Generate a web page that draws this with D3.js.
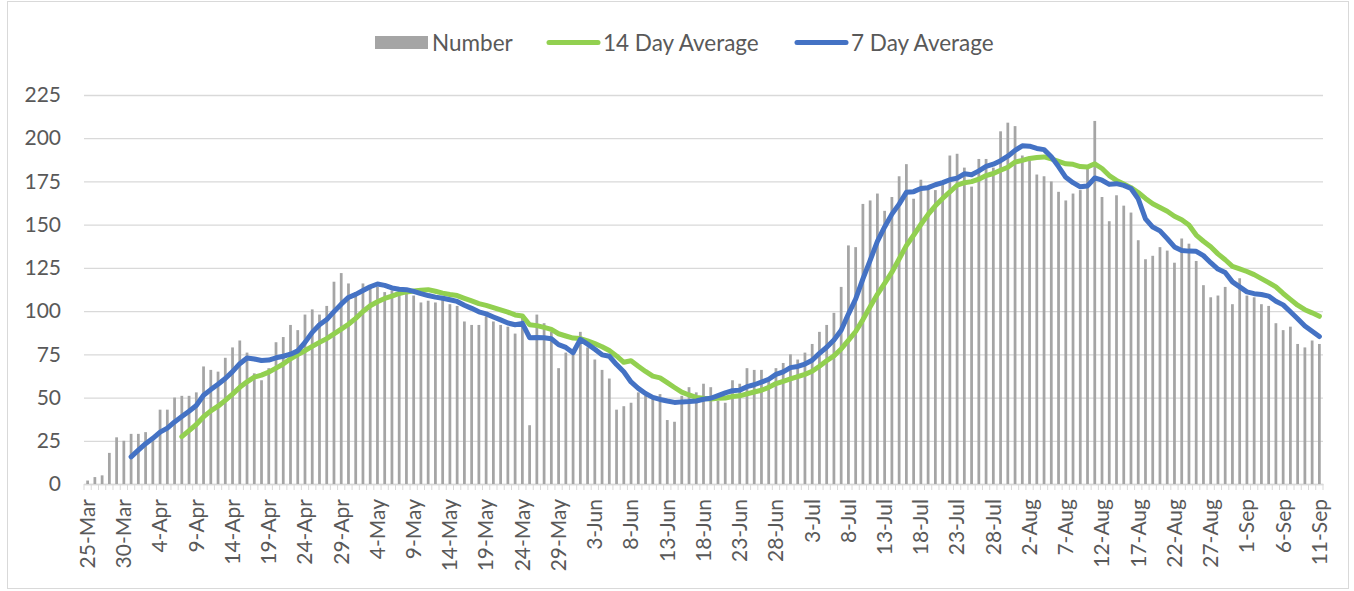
<!DOCTYPE html>
<html>
<head>
<meta charset="utf-8">
<script src="https://cdn.jsdelivr.net/npm/d3@7"></script>
<style>
  body { margin: 0; background: #fff; }
  text { font-family: Lato, "Open Sans", sans-serif; fill: #595959; }
</style>
</head>
<body>
<script>
// daily categories, 25-Mar to 11-Sep
var dates = [
  "25-Mar","26-Mar","27-Mar","28-Mar","29-Mar","30-Mar","31-Mar",
  "1-Apr","2-Apr","3-Apr","4-Apr","5-Apr","6-Apr","7-Apr","8-Apr","9-Apr","10-Apr",
  "11-Apr","12-Apr","13-Apr","14-Apr","15-Apr","16-Apr","17-Apr","18-Apr","19-Apr","20-Apr",
  "21-Apr","22-Apr","23-Apr","24-Apr","25-Apr","26-Apr","27-Apr","28-Apr","29-Apr","30-Apr",
  "1-May","2-May","3-May","4-May","5-May","6-May","7-May","8-May","9-May","10-May",
  "11-May","12-May","13-May","14-May","15-May","16-May","17-May","18-May","19-May","20-May",
  "21-May","22-May","23-May","24-May","25-May","26-May","27-May","28-May","29-May","30-May","31-May",
  "1-Jun","2-Jun","3-Jun","4-Jun","5-Jun","6-Jun","7-Jun","8-Jun","9-Jun","10-Jun",
  "11-Jun","12-Jun","13-Jun","14-Jun","15-Jun","16-Jun","17-Jun","18-Jun","19-Jun","20-Jun",
  "21-Jun","22-Jun","23-Jun","24-Jun","25-Jun","26-Jun","27-Jun","28-Jun","29-Jun","30-Jun",
  "1-Jul","2-Jul","3-Jul","4-Jul","5-Jul","6-Jul","7-Jul","8-Jul","9-Jul","10-Jul",
  "11-Jul","12-Jul","13-Jul","14-Jul","15-Jul","16-Jul","17-Jul","18-Jul","19-Jul","20-Jul",
  "21-Jul","22-Jul","23-Jul","24-Jul","25-Jul","26-Jul","27-Jul","28-Jul","29-Jul","30-Jul","31-Jul",
  "1-Aug","2-Aug","3-Aug","4-Aug","5-Aug","6-Aug","7-Aug","8-Aug","9-Aug","10-Aug",
  "11-Aug","12-Aug","13-Aug","14-Aug","15-Aug","16-Aug","17-Aug","18-Aug","19-Aug","20-Aug",
  "21-Aug","22-Aug","23-Aug","24-Aug","25-Aug","26-Aug","27-Aug","28-Aug","29-Aug","30-Aug","31-Aug",
  "1-Sep","2-Sep","3-Sep","4-Sep","5-Sep","6-Sep","7-Sep","8-Sep","9-Sep","10-Sep","11-Sep"
];

var number = [
  2,4,5,18,27,25,29,
  29,30,27,43,43,50,51,51,53,68,
  66,65,73,79,83,76,64,60,67,82,
  85,92,89,98,101,98,103,117,122,116,
  111,116,114,114,111,112,110,110,109,105,
  106,105,107,104,103,94,92,92,97,94,
  92,91,87,97,34,98,93,88,67,76,75,
  88,79,72,66,61,43,45,47,53,51,
  51,52,37,36,51,56,53,58,56,48,
  47,60,58,67,66,66,60,67,70,75,
  72,76,81,88,92,99,114,138,137,162,
  164,168,158,166,178,185,165,176,172,170,
  174,190,191,183,172,188,188,183,204,209,207,
  190,187,179,178,175,169,164,168,170,183,
  210,166,152,167,161,157,141,130,132,137,
  135,128,142,139,129,115,108,109,114,104,119,
  109,108,104,103,93,89,91,81,79,83,81
];

var avg14 = [
  null,null,null,null,null,null,null,
  null,null,null,null,null,null,27.4,30.9,34.4,38.9,
  42.3,45.0,48.4,52.0,55.9,59.1,61.8,63.0,64.7,67.0,
  69.4,72.4,74.9,77.1,79.6,81.9,84.1,86.8,89.6,92.4,
  95.8,99.8,103.1,105.4,107.3,108.7,110.2,111.1,111.6,112.1,
  112.4,111.5,110.4,109.6,109.0,107.4,105.9,104.3,103.3,102.0,
  100.7,99.4,97.8,97.2,92.1,91.6,90.6,89.4,86.9,85.6,84.4,
  84.1,82.8,81.2,79.4,77.2,74.1,70.4,71.3,68.1,65.1,
  62.4,61.4,58.6,55.8,53.1,51.5,50.1,49.6,49.2,49.6,
  49.7,50.6,51.0,52.1,53.2,54.2,55.9,58.1,59.4,60.8,
  62.1,63.4,65.2,68.1,71.3,74.1,78.1,83.1,88.2,95.1,
  102.5,109.7,116.0,122.5,130.1,137.9,143.9,150.1,155.9,160.9,
  165.2,168.9,172.8,174.3,174.9,176.3,178.4,179.6,181.5,183.2,186.2,
  187.2,188.3,188.9,189.2,188.1,186.6,185.2,184.9,183.6,183.3,
  185.2,182.5,178.4,175.6,173.5,171.4,168.6,165.2,162.1,159.9,
  157.8,154.9,152.9,149.8,144.0,140.4,137.2,133.1,129.7,125.9,124.4,
  122.9,121.1,118.8,116.5,114.0,110.2,106.8,103.4,100.8,99.0,97.0
];

var avg7 = [
  null,null,null,null,null,null,15.7,
  19.6,23.3,26.4,30.0,32.3,35.9,39.0,42.1,45.4,51.3,
  54.6,57.7,61.0,65.0,69.6,72.9,72.3,71.4,71.7,73.0,
  73.9,75.1,77.0,81.9,87.7,92.1,95.1,99.7,104.0,107.9,
  109.7,111.9,114.1,115.7,114.9,113.4,112.6,112.4,111.4,110.1,
  109.0,108.1,107.4,106.6,105.6,103.4,101.6,99.6,98.4,96.6,
  94.9,93.1,92.1,92.9,84.6,84.7,84.6,84.0,80.6,79.0,75.9,
  83.6,80.9,77.9,74.7,73.9,69.1,64.9,59.0,55.3,52.3,
  50.1,48.9,48.0,47.2,47.5,47.7,48.0,49.0,49.6,51.1,
  52.7,54.0,54.3,56.3,57.4,58.9,60.6,63.4,64.9,67.3,
  68.0,69.4,71.6,75.6,79.1,83.3,88.9,98.3,107.0,118.6,
  129.4,140.3,148.7,156.1,161.9,168.7,169.1,170.9,171.4,173.1,
  174.3,176.0,176.9,179.4,178.9,181.1,183.7,185.0,187.0,189.6,193.0,
  195.6,195.4,194.1,193.4,189.3,183.6,177.4,174.3,171.9,172.4,
  177.0,175.7,173.3,173.7,172.7,170.9,164.9,153.4,148.6,146.4,
  141.9,137.1,135.0,134.7,134.6,132.1,128.0,124.3,122.3,116.9,114.0,
  111.1,110.1,109.6,108.7,105.7,103.6,99.6,95.6,91.4,88.4,85.3
];

var tickLabels = ["25-Mar","30-Mar","4-Apr","9-Apr","14-Apr","19-Apr","24-Apr","29-Apr",
  "4-May","9-May","14-May","19-May","24-May","29-May","3-Jun","8-Jun","13-Jun","18-Jun",
  "23-Jun","28-Jun","3-Jul","8-Jul","13-Jul","18-Jul","23-Jul","28-Jul","2-Aug","7-Aug",
  "12-Aug","17-Aug","22-Aug","27-Aug","1-Sep","6-Sep","11-Sep"];
var yTicks = [0, 25, 50, 75, 100, 125, 150, 175, 200, 225];

var width = 1354, height = 591;
var plot = { left: 84, right: 1323, top: 95, bottom: 484 };

var svg = d3.select("body").append("svg")
    .attr("width", width)
    .attr("height", height);

// chart border
svg.append("rect")
    .attr("x", 7.5).attr("y", 1.5)
    .attr("width", 1341).attr("height", 587)
    .attr("fill", "none").attr("stroke", "#d9d9d9");

var x = d3.scaleBand().domain(dates).range([plot.left, plot.right]);
var y = d3.scaleLinear().domain([0, 225]).range([plot.bottom, plot.top]);
var bw = x.bandwidth();
var cx = function(d) { return x(d) + bw / 2; };

// gridlines + y labels
var yAxis = d3.axisLeft(y).tickValues(yTicks).tickSize(-(plot.right - plot.left)).tickPadding(23);
var gy = svg.append("g").attr("transform", "translate(" + plot.left + ",0)").call(yAxis);
gy.select(".domain").remove();
gy.selectAll("line").attr("stroke", "#d9d9d9").attr("stroke-width", 1.3);
gy.selectAll("text").style("font-size", "21px").attr("fill", "#595959");

// category tick marks
svg.append("g").selectAll("line")
    .data(dates.concat([null]))
    .enter().append("line")
    .attr("x1", function(d) { return d === null ? plot.right : x(d); })
    .attr("x2", function(d) { return d === null ? plot.right : x(d); })
    .attr("y1", plot.bottom).attr("y2", plot.bottom + 6)
    .attr("stroke", "#d9d9d9");

// x labels
var xAxis = d3.axisBottom(x).tickValues(tickLabels).tickSize(0);
var gx = svg.append("g").attr("transform", "translate(0," + plot.bottom + ")").call(xAxis);
gx.select(".domain").attr("stroke", "#d9d9d9").attr("stroke-width", 1.3);
gx.selectAll("text")
    .style("font-size", "21px").attr("fill", "#595959")
    .attr("transform", "rotate(-90)")
    .attr("text-anchor", "end")
    .attr("x", -15).attr("y", 0).attr("dy", "0.35em");

// bars
svg.append("g").selectAll("rect")
    .data(number)
    .enter().append("rect")
    .attr("x", function(d, i) { return cx(dates[i]) - bw * 0.19; })
    .attr("width", bw * 0.38)
    .attr("y", function(d) { return y(d); })
    .attr("height", function(d) { return plot.bottom - y(d); })
    .attr("fill", "#a5a5a5");

function drawLine(values, color) {
    var line = d3.line()
        .defined(function(d) { return d !== null; })
        .x(function(d, i) { return cx(dates[i]); })
        .y(function(d) { return y(d); });
    svg.append("path")
        .datum(values)
        .attr("d", line)
        .attr("fill", "none")
        .attr("stroke", color)
        .attr("stroke-width", 5)
        .attr("stroke-linejoin", "round")
        .attr("stroke-linecap", "round");
}
drawLine(avg14, "#92d050");
drawLine(avg7, "#4472c4");

// legend
var lg = svg.append("g").style("font-size", "22.5px");
lg.append("rect").attr("x", 375).attr("y", 36).attr("width", 53).attr("height", 13).attr("fill", "#a5a5a5");
lg.append("text").attr("x", 432).attr("y", 43).attr("dy", "0.35em").text("Number");
lg.append("line").attr("x1", 549).attr("x2", 598).attr("y1", 42.5).attr("y2", 42.5)
    .attr("stroke", "#92d050").attr("stroke-width", 5).attr("stroke-linecap", "round");
lg.append("text").attr("x", 603).attr("y", 43).attr("dy", "0.35em").text("14 Day Average");
lg.append("line").attr("x1", 797).attr("x2", 846).attr("y1", 42.5).attr("y2", 42.5)
    .attr("stroke", "#4472c4").attr("stroke-width", 5).attr("stroke-linecap", "round");
lg.append("text").attr("x", 851).attr("y", 43).attr("dy", "0.35em").text("7 Day Average");
</script>
</body>
</html>
